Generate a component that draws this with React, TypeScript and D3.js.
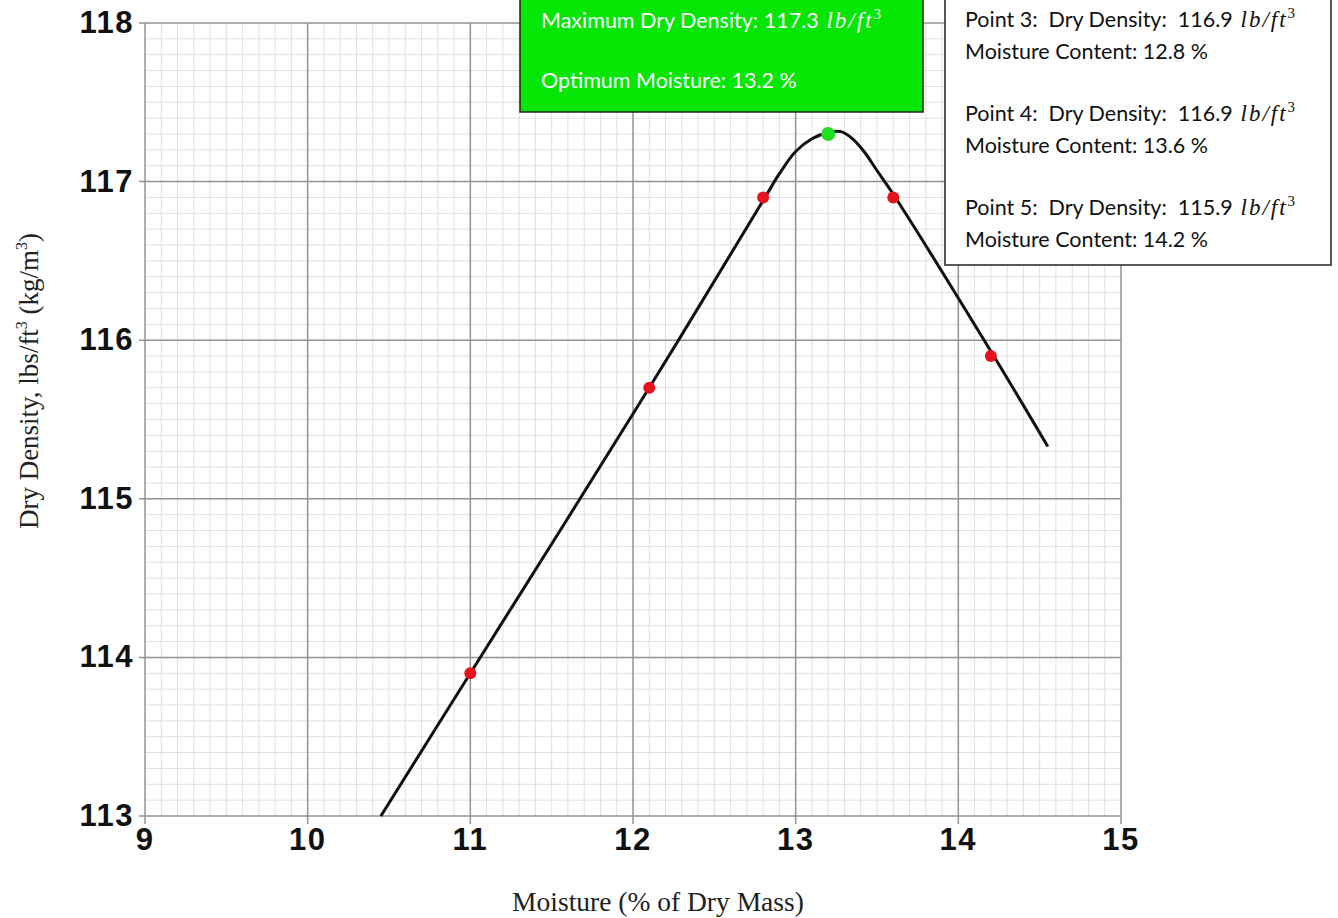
import React from "react";
import * as d3 from "d3";

// ---- Data ----
const pointMoisture = [11.0, 12.1, 12.8, 13.6, 14.2];
const pointDensity = [113.9, 115.7, 116.9, 116.9, 115.9];
const optimumMoisture = 13.2;
const maximumDensity = 117.3;
const curveMoisture = [10.45, 11.0, 12.1, 12.8, 12.9, 13.0, 13.1, 13.2, 13.28, 13.35, 13.42, 13.5, 13.6, 14.2, 14.55];
const curveDensity = [113.0, 113.9, 115.7, 116.88, 117.05, 117.19, 117.27, 117.31, 117.315, 117.27, 117.19, 117.07, 116.92, 115.93, 115.33];
const xTicks = [9, 10, 11, 12, 13, 14, 15];
const yTicks = [113, 114, 115, 116, 117, 118];
const infoPoints = ["Point 3", "Point 4", "Point 5"];
const infoDensity = ["116.9", "116.9", "115.9"];
const infoMoisture = ["12.8", "13.6", "14.2"];

const W = 1338;
const H = 918;
const NB = "\u00A0";

export default function App() {
  const x = d3.scaleLinear().domain([9, 15]).range([145, 1121]);
  const y = d3.scaleLinear().domain([113, 118]).range([816, 23]);

  const minorX = d3.range(90, 151).map((v) => v / 10).filter((v) => !Number.isInteger(v));
  const minorY = d3.range(1130, 1181).map((v) => v / 10).filter((v) => !Number.isInteger(v));

  const line = d3
    .line<number>()
    .x((_, i) => x(curveMoisture[i]))
    .y((_, i) => y(curveDensity[i]))
    .curve(d3.curveCatmullRom.alpha(0.5));

  const boxFont = "Lato, 'Open Sans', sans-serif";
  const mathFont = "'Liberation Serif', 'DejaVu Serif', serif";
  const fs = 21.5;

  const lbft = () => [
    <tspan key="a" fontFamily={mathFont} fontStyle="italic" fontSize={23} letterSpacing={2}>
      {NB + "lb/ft"}
    </tspan>,
    <tspan key="b" fontFamily={mathFont} fontSize={15} dy={-9}>
      3
    </tspan>,
  ];

  return (
    <svg
      width={W}
      height={H}
      style={{ position: "absolute", left: 0, top: 0, display: "block", background: "#fff" }}
    >
      {/* minor grid */}
      <g stroke="#e0e0e0" strokeWidth={1}>
        {minorX.map((v) => (
          <line key={"mx" + v} x1={x(v)} x2={x(v)} y1={y(118)} y2={y(113)} />
        ))}
        {minorY.map((v) => (
          <line key={"my" + v} x1={x(9)} x2={x(15)} y1={y(v)} y2={y(v)} />
        ))}
      </g>
      {/* major grid */}
      <g stroke="#939393" strokeWidth={1.5}>
        {xTicks.map((v) => (
          <line key={"Mx" + v} x1={x(v)} x2={x(v)} y1={y(118)} y2={y(113) + 8} />
        ))}
        {yTicks.map((v) => (
          <line key={"My" + v} x1={x(9) - 6} x2={x(15)} y1={y(v)} y2={y(v)} />
        ))}
      </g>
      {/* tick labels */}
      <g fontFamily="'Liberation Sans', Arial, sans-serif" fontWeight="bold" fontSize={31} fill="#111" letterSpacing={1.5}>
        {xTicks.map((v) => (
          <text key={"tx" + v} x={x(v)} y={850} textAnchor="middle">
            {v}
          </text>
        ))}
        {yTicks.map((v) => (
          <text key={"ty" + v} x={134} y={y(v) + 10} textAnchor="end">
            {v}
          </text>
        ))}
      </g>
      {/* axis titles */}
      <text
        x={658}
        y={911}
        textAnchor="middle"
        fontFamily="'Liberation Serif', 'Times New Roman', serif"
        fontSize={27.5}
        fill="#222"
      >
        Moisture (% of Dry Mass)
      </text>
      <text
        transform={`translate(38,381) rotate(-90)`}
        textAnchor="middle"
        fontFamily="'Liberation Serif', 'Times New Roman', serif"
        fontSize={27}
        fill="#222"
      >
        Dry Density, lbs/ft
        <tspan fontSize={16} dy={-11}>3</tspan>
        <tspan dy={11}>{NB + "(kg/m"}</tspan>
        <tspan fontSize={16} dy={-11}>3</tspan>
        <tspan dy={11}>)</tspan>
      </text>
      {/* curve */}
      <path d={line(curveMoisture) || ""} fill="none" stroke="#111" strokeWidth={3} strokeLinejoin="round" />
      {/* points */}
      {pointMoisture.map((m, i) => (
        <circle key={"p" + i} cx={x(m)} cy={y(pointDensity[i])} r={6} fill="#e8121f" />
      ))}
      <circle cx={x(optimumMoisture)} cy={y(maximumDensity)} r={7} fill="#22dd22" />

      {/* green info box */}
      <rect x={520} y={-5} width={403} height={117} fill="#05e605" stroke="#222" strokeWidth={1.5} />
      <text x={541} y={28} fontFamily={boxFont} fontSize={fs} fill="#fff">
        {`Maximum Dry Density: ${maximumDensity}`}
        {lbft()}
      </text>
      <text x={541} y={88} fontFamily={boxFont} fontSize={fs} fill="#fff">
        {`Optimum Moisture: ${optimumMoisture} %`}
      </text>

      {/* white info box */}
      <rect x={945} y={-5} width={386} height={270} fill="#fff" stroke="#222" strokeWidth={1.5} />
      {infoPoints.map((p, i) => (
        <g key={"info" + i} fontFamily={boxFont} fontSize={fs} fill="#111">
          <text x={965} y={27 + i * 94}>
            {`${p}:${NB}${NB}Dry Density:${NB}${NB}${infoDensity[i]}`}
            {lbft()}
          </text>
          <text x={965} y={59 + i * 94}>{`Moisture Content: ${infoMoisture[i]} %`}</text>
        </g>
      ))}
    </svg>
  );
}
